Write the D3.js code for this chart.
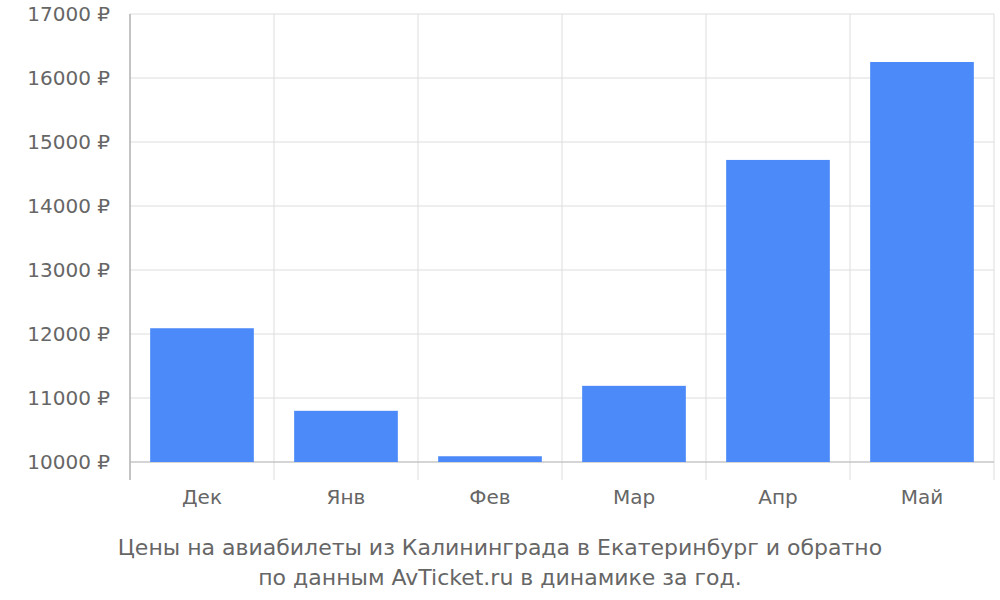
<!DOCTYPE html>
<html><head><meta charset="utf-8">
<script src="https://cdn.jsdelivr.net/npm/d3@7"></script>
<style>body{margin:0;background:#fff}text{font-family:"DejaVu Sans",sans-serif;fill:#666}</style>
</head><body>
<svg width="1000" height="600"></svg>
<script>
const categories=["Дек","Янв","Фев","Мар","Апр","Май"];
const values=[12090,10800,10090,11190,14720,16250];
const yTicks=[10000,11000,12000,13000,14000,15000,16000,17000];
const caption=["Цены на авиабилеты из Калининграда в Екатеринбург и обратно","по данным AvTicket.ru в динамике за год."];

const svg=d3.select("svg");
const L=130,R=994,T=14,B=462;
const x=d3.scaleBand().domain(categories).range([L,R]).paddingInner(0.28).paddingOuter(0.14);
const y=d3.scaleLinear().domain([10000,17000]).range([B,T]);
const step=(R-L)/categories.length;

// horizontal grid
svg.selectAll(".hg").data(yTicks).join("line").attr("x1",L).attr("x2",R)
 .attr("y1",d=>y(d)).attr("y2",d=>y(d)).attr("stroke","#ddd").attr("stroke-width",1);
// vertical grid
const vx=d3.range(categories.length+1).map(i=>L+i*step);
svg.selectAll(".vg").data(vx).join("line").attr("x1",d=>d).attr("x2",d=>d)
 .attr("y1",T).attr("y2",480).attr("stroke","#ddd");
// axes
svg.append("line").attr("x1",L).attr("x2",L).attr("y1",T).attr("y2",480).attr("stroke","#999");
svg.append("line").attr("x1",L).attr("x2",R).attr("y1",B).attr("y2",B).attr("stroke","#bbb");
// bars
svg.selectAll(".bar").data(values).join("rect")
 .attr("x",(d,i)=>x(categories[i])).attr("width",x.bandwidth())
 .attr("y",d=>y(d)).attr("height",d=>B-y(d)).attr("fill","#4d8af9");
// y labels
svg.selectAll(".yl").data(yTicks).join("text").attr("x",110).attr("y",d=>y(d)+7)
 .attr("text-anchor","end").attr("font-size",20).text(d=>d+" ₽");
// x labels
svg.selectAll(".xl").data(categories).join("text").attr("x",d=>x(d)+x.bandwidth()/2).attr("y",504)
 .attr("text-anchor","middle").attr("font-size",20).text(d=>d);
// caption
svg.selectAll(".cap").data(caption).join("text").attr("x",500).attr("y",(d,i)=>555+i*30)
 .attr("text-anchor","middle").attr("font-size",22).text(d=>d);
</script></body></html>
